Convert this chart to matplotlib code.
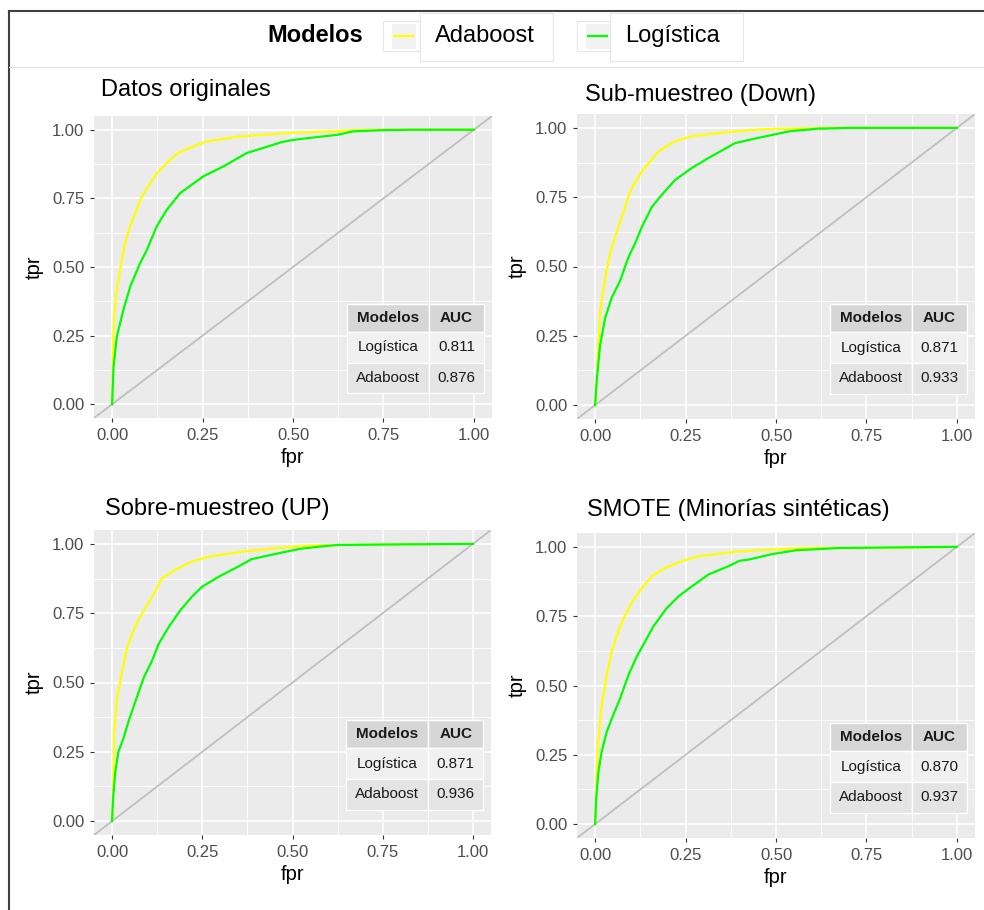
import matplotlib
matplotlib.use("Agg")
import matplotlib.pyplot as plt
from matplotlib.patches import Rectangle
from matplotlib.lines import Line2D

plt.rcParams['font.family'] = ['Liberation Sans', 'DejaVu Sans']

# ---- data ----
titles = ['Datos originales', 'Sub-muestreo (Down)',
          'Sobre-muestreo (UP)', 'SMOTE (Minorías sintéticas)']
modelos = ['Logística', 'Adaboost']
auc_logistica = [0.811, 0.871, 0.871, 0.870]
auc_adaboost = [0.876, 0.933, 0.936, 0.937]

# Datos originales
fpr_orig_ada = [0, 0.002, 0.004, 0.011, 0.022, 0.036, 0.05, 0.082, 0.123, 0.16, 0.188,
                0.26, 0.354, 0.49, 0.55, 0.666, 0.75, 1.0]
tpr_orig_ada = [0, 0.124, 0.28, 0.40, 0.49, 0.59, 0.65, 0.757, 0.84, 0.89, 0.92,
                0.957, 0.976, 0.988, 0.991, 0.998, 1.0, 1.0]
fpr_orig_log = [0, 0.004, 0.013, 0.031, 0.05, 0.077, 0.096, 0.123, 0.151, 0.188, 0.252,
                0.307, 0.372, 0.469, 0.5, 0.625, 0.666, 0.74, 0.823, 1.0]
tpr_orig_log = [0, 0.136, 0.246, 0.343, 0.428, 0.513, 0.562, 0.647, 0.708, 0.769, 0.83,
                0.866, 0.915, 0.955, 0.963, 0.982, 0.994, 0.998, 1.0, 1.0]

# Sub-muestreo (Down)
fpr_down_ada = [0, 0.005, 0.014, 0.028, 0.041, 0.055, 0.074, 0.092, 0.106, 0.129, 0.175,
                0.221, 0.267, 0.359, 0.40, 0.451, 0.516, 0.60, 0.62, 1.0]
tpr_down_ada = [0, 0.097, 0.34, 0.46, 0.545, 0.606, 0.679, 0.752, 0.794, 0.842, 0.915,
                0.952, 0.970, 0.984, 0.988, 0.994, 0.997, 0.998, 1.0, 1.0]
fpr_down_log = [0, 0.005, 0.014, 0.028, 0.046, 0.069, 0.092, 0.110, 0.129, 0.157, 0.184,
                0.221, 0.267, 0.313, 0.387, 0.451, 0.539, 0.616, 0.71, 1.0]
tpr_down_log = [0, 0.097, 0.218, 0.315, 0.388, 0.448, 0.533, 0.582, 0.642, 0.715, 0.758,
                0.812, 0.855, 0.891, 0.945, 0.964, 0.988, 0.997, 1.0, 1.0]

# Sobre-muestreo (UP)
fpr_up_ada = [0, 0.003, 0.006, 0.014, 0.028, 0.042, 0.065, 0.083, 0.111, 0.138, 0.175,
              0.221, 0.268, 0.360, 0.452, 0.528, 0.625, 0.79, 1.0]
tpr_up_ada = [0, 0.107, 0.324, 0.446, 0.542, 0.627, 0.706, 0.748, 0.809, 0.875, 0.906,
              0.936, 0.954, 0.972, 0.984, 0.993, 0.996, 0.998, 1.0]
fpr_up_log = [0, 0.003, 0.009, 0.018, 0.032, 0.046, 0.065, 0.088, 0.111, 0.129, 0.157,
              0.189, 0.221, 0.249, 0.295, 0.341, 0.387, 0.461, 0.52, 0.575, 0.625, 0.79, 1.0]
tpr_up_log = [0, 0.082, 0.179, 0.252, 0.300, 0.361, 0.433, 0.518, 0.579, 0.639, 0.700,
              0.760, 0.809, 0.845, 0.881, 0.912, 0.945, 0.966, 0.982, 0.990, 0.996, 0.998, 1.0]

# SMOTE
fpr_smote_ada = [0, 0.003, 0.007, 0.017, 0.032, 0.046, 0.064, 0.083, 0.106, 0.129, 0.157,
                 0.193, 0.239, 0.285, 0.359, 0.40, 0.451, 0.543, 0.60, 0.83, 1.0]
tpr_smote_ada = [0, 0.091, 0.272, 0.417, 0.537, 0.622, 0.694, 0.755, 0.809, 0.851, 0.894,
                 0.924, 0.948, 0.966, 0.978, 0.984, 0.988, 0.994, 0.996, 0.997, 1.0]
fpr_smote_log = [0, 0.003, 0.009, 0.018, 0.032, 0.046, 0.069, 0.092, 0.115, 0.138, 0.161,
                 0.198, 0.230, 0.267, 0.313, 0.368, 0.40, 0.424, 0.49, 0.557, 0.677, 0.99, 1.0]
tpr_smote_log = [0, 0.091, 0.187, 0.260, 0.332, 0.380, 0.453, 0.537, 0.604, 0.658, 0.713,
                 0.779, 0.821, 0.857, 0.900, 0.930, 0.950, 0.954, 0.974, 0.988, 0.996, 1.0, 1.0]

curves = [
    (fpr_orig_ada, tpr_orig_ada, fpr_orig_log, tpr_orig_log),
    (fpr_down_ada, tpr_down_ada, fpr_down_log, tpr_down_log),
    (fpr_up_ada, tpr_up_ada, fpr_up_log, tpr_up_log),
    (fpr_smote_ada, tpr_smote_ada, fpr_smote_log, tpr_smote_log),
]

ticks = [0, 0.25, 0.5, 0.75, 1.0]
tick_labels = ['0.00', '0.25', '0.50', '0.75', '1.00']

W, H = 984, 910
YELLOW = '#FFFF00'
GREEN = '#00FF00'


def px(x, y):
    # pixel coords (from top-left) -> figure fraction
    return x / W, 1 - y / H


fig = plt.figure(figsize=(W / 100, H / 100), dpi=100)

# panel boxes in pixels: left, top, right, bottom
boxes = [(94, 116, 492, 418), (577, 114, 975, 419),
         (94, 530, 491, 835), (577, 533, 975, 838)]
title_pos = [(101, 96), (585, 101), (105, 515), (587, 516)]


def draw_panel(ax, i):
    fa, ta, fl, tl = curves[i]
    ax.set_facecolor('#EBEBEB')
    for s in ax.spines.values():
        s.set_visible(False)
    ax.set_xlim(-0.05, 1.05)
    ax.set_ylim(-0.05, 1.05)
    ax.set_xticks(ticks)
    ax.set_xticklabels(tick_labels)
    ax.set_yticks(ticks)
    ax.set_yticklabels(tick_labels)
    ax.set_xticks([0.125, 0.375, 0.625, 0.875], minor=True)
    ax.set_yticks([0.125, 0.375, 0.625, 0.875], minor=True)
    ax.grid(which='major', color='white', lw=1.1)
    ax.grid(which='minor', color='white', lw=0.55)
    ax.set_axisbelow(True)
    ax.tick_params(which='major', length=3, width=0.8, color='#333333',
                   labelsize=12, labelcolor='#4D4D4D', pad=4)
    ax.tick_params(which='minor', length=0)
    ax.set_xlabel('fpr', fontsize=14.5, labelpad=4)
    ax.set_ylabel('tpr', fontsize=14.5, labelpad=6)

    ax.axline((0, 0), slope=1, color='#BFBFBF', lw=1.3, zorder=2)
    ax.plot(fa, ta, color=YELLOW, lw=1.6, zorder=3)
    ax.plot(fl, tl, color=GREEN, lw=1.6, zorder=4)

    # AUC table
    x0, xm, x1 = 0.636, 0.842, 0.98
    ys = [0.377, 0.285, 0.183, 0.083]
    rows = [('Modelos', 'AUC'),
            (modelos[0], f'{auc_logistica[i]:.3f}'),
            (modelos[1], f'{auc_adaboost[i]:.3f}')]
    fills = ['#D6D6D6', '#F0F0F0', '#E4E4E4']
    for r, (c1, c2) in enumerate(rows):
        yt, yb = ys[r], ys[r + 1]
        for (xa, xb), txt in (((x0, xm), c1), ((xm, x1), c2)):
            ax.add_patch(Rectangle((xa, yb), xb - xa, yt - yb, transform=ax.transAxes,
                                   facecolor=fills[r], edgecolor='white', lw=1, zorder=5))
            ax.text((xa + xb) / 2, (yt + yb) / 2, txt, transform=ax.transAxes,
                    ha='center', va='center', fontsize=11, color='#1A1A1A',
                    fontweight='bold' if r == 0 else 'normal', zorder=6)

    tx, ty = px(*title_pos[i])
    fig.text(tx, ty, titles[i], fontsize=17, va='baseline', ha='left')


for i, (l, t, r, b) in enumerate(boxes):
    ax = fig.add_axes([l / W, 1 - b / H, (r - l) / W, (b - t) / H])
    draw_panel(ax, i)

# frame lines of the screenshot
fig.add_artist(Line2D([px(9, 0)[0], 1], [px(0, 10.5)[1]] * 2, color='#404040', lw=1.5))
fig.add_artist(Line2D([px(9, 0)[0]] * 2, [px(0, 10.5)[1], 0], color='#404040', lw=1.5))
fig.add_artist(Line2D([px(9, 0)[0], 1], [px(0, 67)[1]] * 2, color='#E3E3E3', lw=0.8))

# legend
fig.text(*px(267, 36), 'Modelos', fontsize=17, fontweight='bold', va='center', ha='left')
legend_items = [('Adaboost', YELLOW, 383, 420, 553), ('Logística', GREEN, 577, 610, 743)]
for label, col, kx0, kx1, lx1 in legend_items:
    bx, by = px(kx0, 51)
    fig.add_artist(Rectangle((bx, by), (kx1 - kx0) / W, 30 / H, facecolor='white',
                             edgecolor='#E6E6E6', lw=0.8))
    gx, gy = px(kx0 + 9, 49)
    fig.add_artist(Rectangle((gx, gy), 24 / W, 25 / H, facecolor='#F2F2F2',
                             edgecolor='none'))
    fig.add_artist(Line2D([px(kx0 + 11, 0)[0], px(kx0 + 30, 0)[0]], [px(0, 36)[1]] * 2,
                          color=col, lw=1.6))
    lx, ly = px(kx1, 61)
    fig.add_artist(Rectangle((lx, ly), (lx1 - kx1) / W, 48 / H, facecolor='white',
                             edgecolor='#E6E6E6', lw=0.8))
    fig.text(*px(kx1 + 15, 36), label, fontsize=17, va='center', ha='left')

fig.savefig('out.png', dpi=100)
